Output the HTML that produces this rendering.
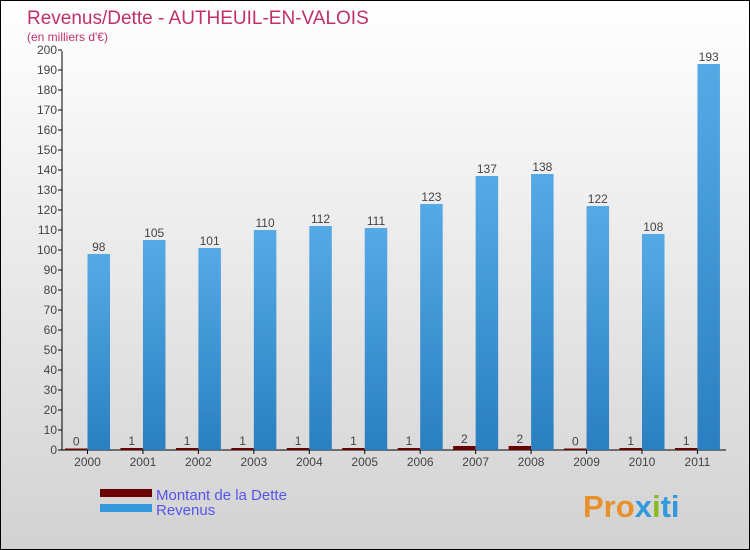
<!DOCTYPE html>
<html><head><meta charset="utf-8"><style>
body{margin:0}
#c{width:748px;height:548px;border:1px solid #000;background:linear-gradient(#ffffff,#d2d2d2);position:relative;font-family:"Liberation Sans",sans-serif}
</style></head><body>
<div id="c">
<svg id="s" width="748" height="548" style="position:absolute;left:0;top:0" font-family="Liberation Sans, sans-serif">
<text x="26" y="23" font-size="19" fill="#c0306a">Revenus/Dette - AUTHEUIL-EN-VALOIS</text>
<text x="26" y="40" font-size="12" fill="#c0306a">(en milliers d'€)</text>
<g id="g"></g>
<rect x="99" y="488" width="52" height="8" fill="#6b0000"/>
<rect x="99" y="503" width="52" height="8" fill="#3399dd"/>
<text x="155" y="499" font-size="15" fill="#5555ee">Montant de la Dette</text>
<text x="155" y="514" font-size="15" fill="#5555ee">Revenus</text>
<text x="582" y="516" font-size="31" font-weight="bold" fill="#e8902a">Pro<tspan fill="#3399dd">x</tspan><tspan fill="#88bb22">i</tspan><tspan fill="#3399dd">ti</tspan></text>
</svg>
</div>
<script>
const years=["2000","2001","2002","2003","2004","2005","2006","2007","2008","2009","2010","2011"];
const dette=[0,1,1,1,1,1,1,2,2,0,1,1];
const revenus=[98,105,101,110,112,111,123,137,138,122,108,193];
const yTicks=[0,10,20,30,40,50,60,70,80,90,100,110,120,130,140,150,160,170,180,190,200];
const NS="http://www.w3.org/2000/svg";
const g=document.getElementById('g');
const y0=449,yk=2,x0=61,step=55.45,cx0=86.5,bw=22.5;
const yS=v=>y0-v*yk, xS=i=>cx0+i*step;
function mk(t,a,txt){const e=document.createElementNS(NS,t);for(const k in a)e.setAttribute(k,a[k]);if(txt!==undefined)e.textContent=txt;g.appendChild(e);return e;}
const ax=mk('line',{x1:x0,y1:50,x2:x0,y2:y0,stroke:'#000'});


const bx=mk('line',{x1:x0,y1:y0,x2:725,y2:y0,stroke:'#000'});


yTicks.forEach(v=>{
 const t=mk('line',{x1:x0-4,y1:yS(v),x2:x0,y2:yS(v),stroke:'#000'});
 
 
 const l=mk('text',{x:x0-5,y:yS(v)+4,'font-size':12,fill:'#444','text-anchor':'end'},v);
 
 
});
const defs=document.createElementNS(NS,'defs');
defs.innerHTML='<linearGradient id="bg" x1="0" y1="0" x2="0" y2="1"><stop offset="0" stop-color="#55aae6"/><stop offset="1" stop-color="#2a7fc0"/></linearGradient>';
g.appendChild(defs);
years.forEach((yr,i)=>{
 const c=xS(i);
 const t=mk('line',{x1:c,y1:y0,x2:c,y2:y0+4,stroke:'#000'});
 
 
 const l=mk('text',{x:c,y:y0+16,'font-size':12,fill:'#444','text-anchor':'middle'},yr);
 
 
 const hd=Math.max(dette[i]*yk,1.5);
 const d=mk('rect',{x:c-bw,y:y0-hd,width:bw,height:hd,fill:'#6b0000'});
 
 
 const dl=mk('text',{x:c-bw/2,y:y0-hd-3,'font-size':12,fill:'#444','text-anchor':'middle'},dette[i]);
 
 
 const r=mk('rect',{x:c,y:yS(revenus[i]),width:bw,height:revenus[i]*yk,fill:'url(#bg)'});
 
 
 const rl=mk('text',{x:c+bw/2,y:yS(revenus[i])-3,'font-size':12,fill:'#444','text-anchor':'middle'},revenus[i]);
 
 
});
</script>
</body></html>
